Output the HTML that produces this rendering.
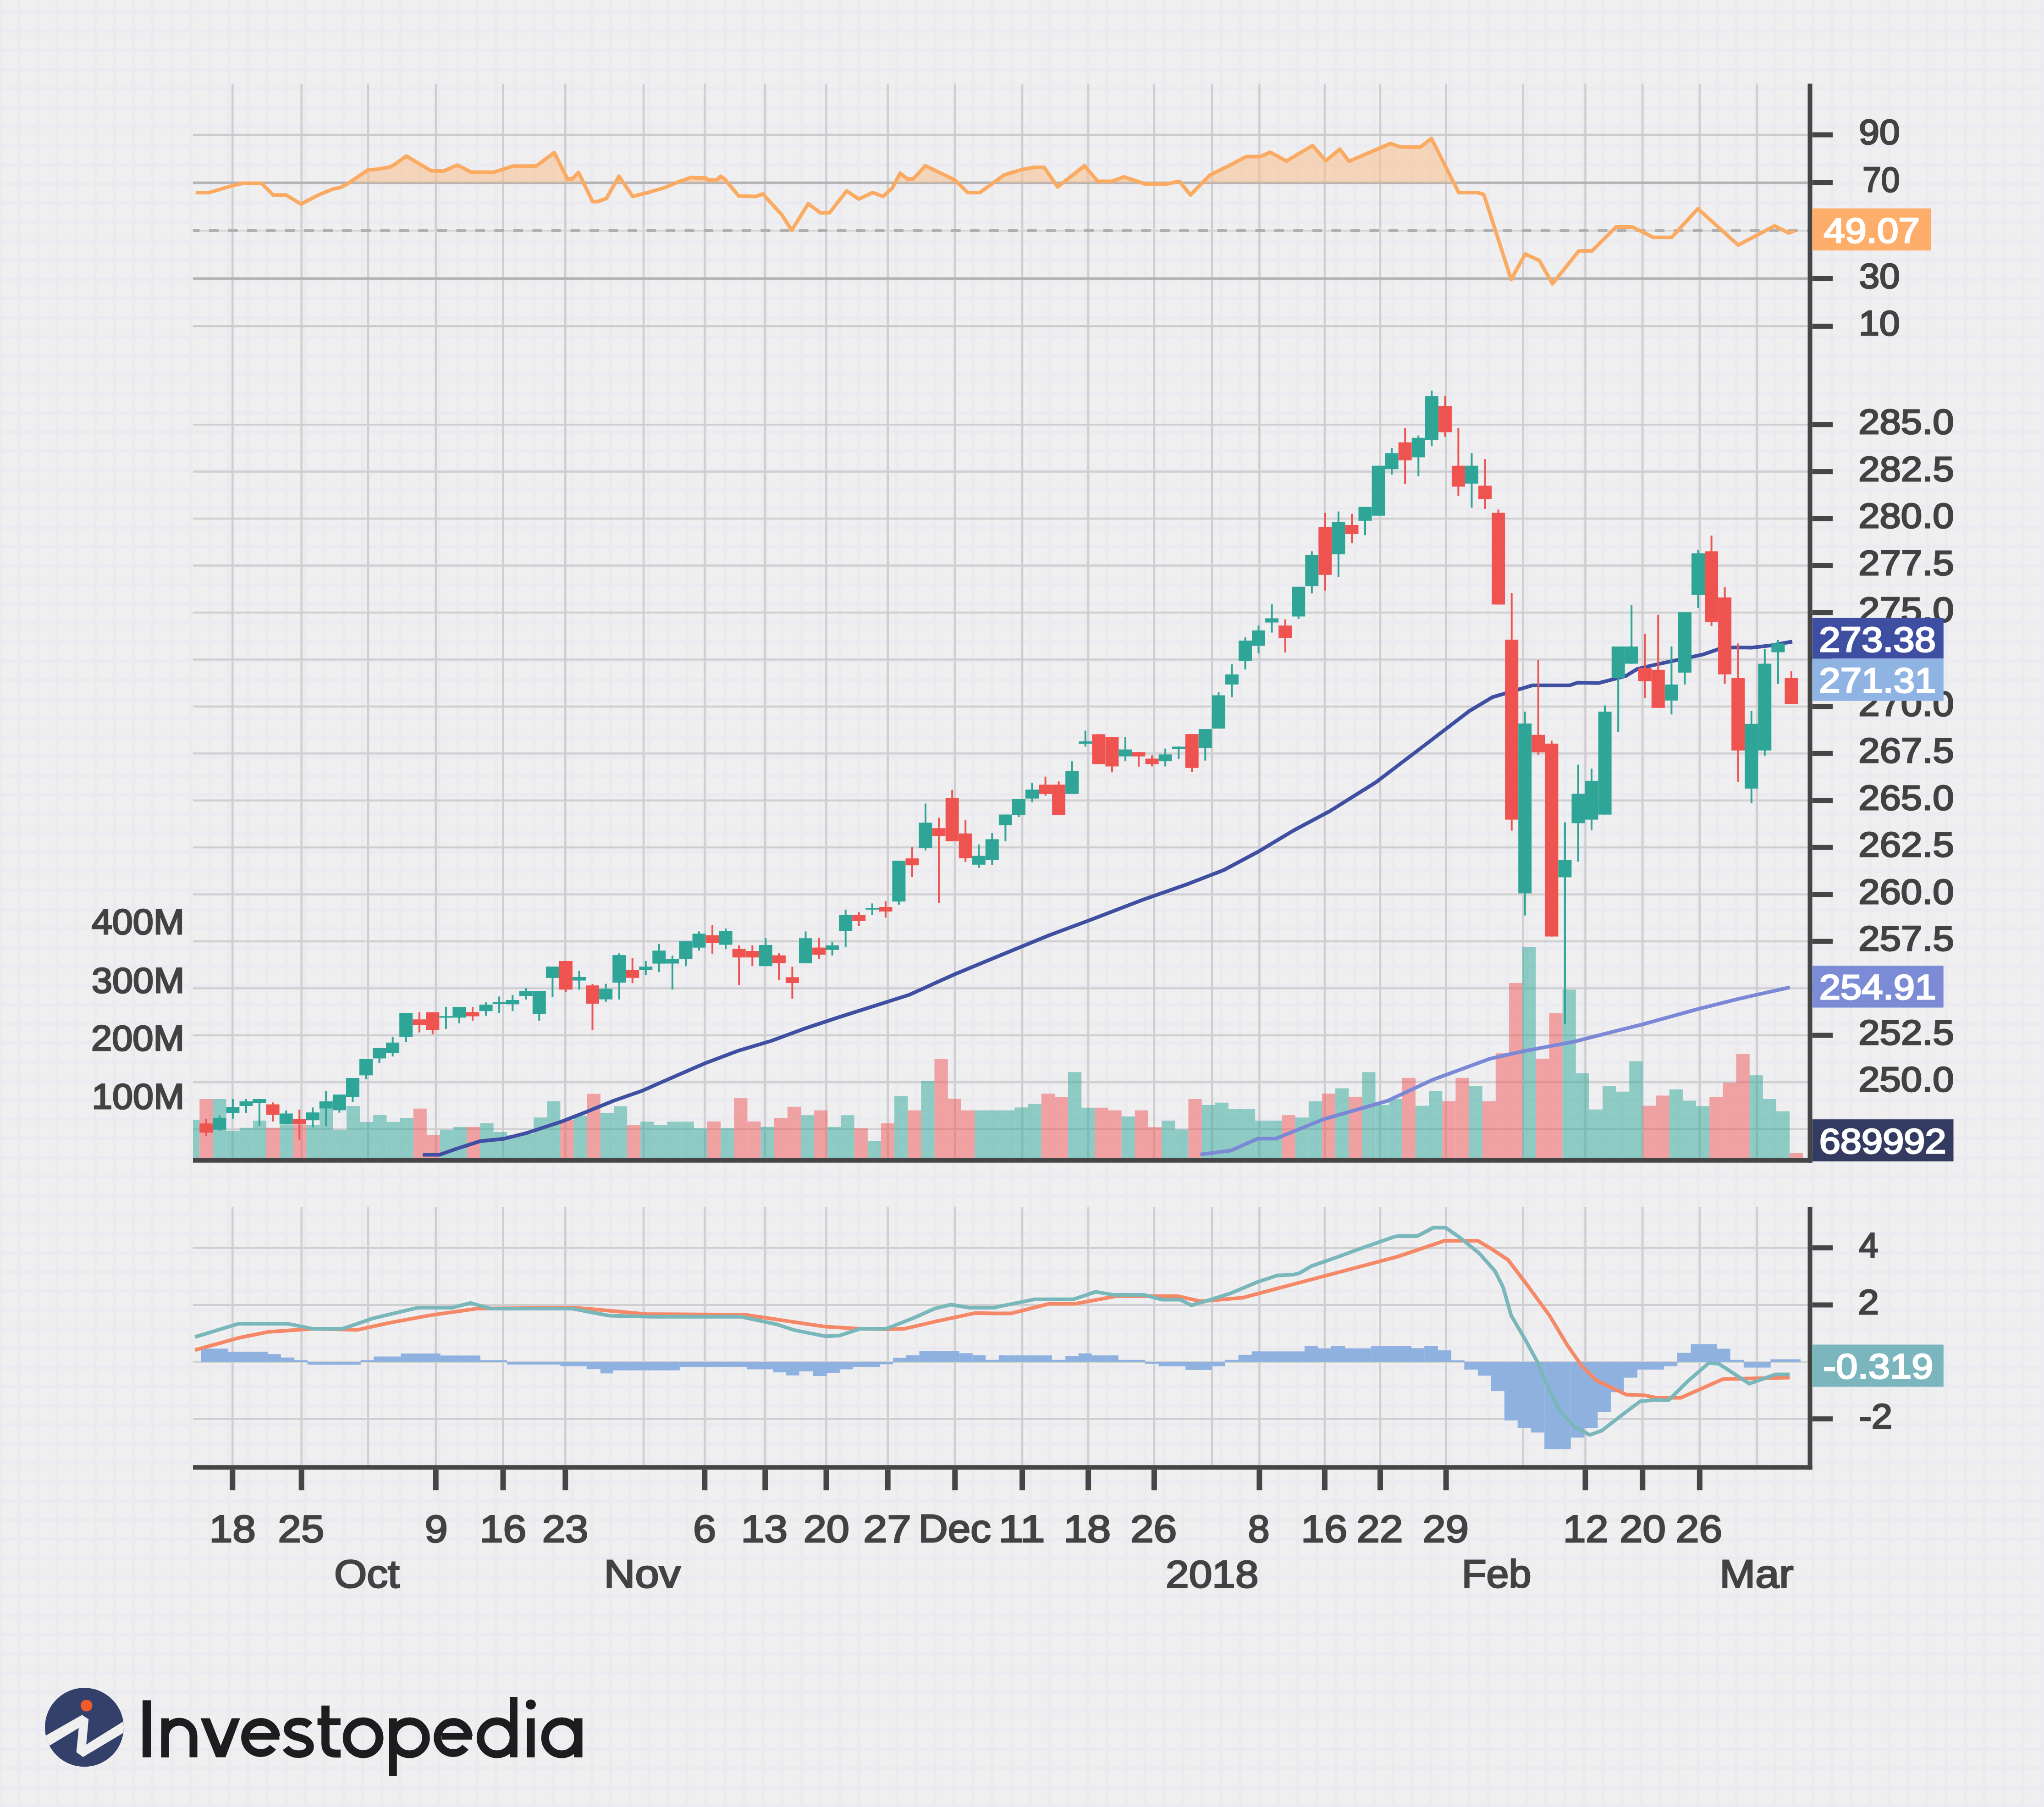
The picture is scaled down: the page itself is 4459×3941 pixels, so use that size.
<!DOCTYPE html><html><head><meta charset="utf-8"><style>html,body{margin:0;padding:0;background:#efeff1;overflow:hidden}svg{display:block}</style></head><body><svg width="4459" height="3941" viewBox="0 0 4459 3941">
<defs>
<pattern id="paper" x="41.5" y="26.6" width="41.63" height="41.63" patternUnits="userSpaceOnUse"><rect width="41.63" height="41.63" fill="#efeff0"/><rect x="-3.5" y="0" width="7" height="41.63" fill="#eaeaf0"/><rect x="38.13" y="0" width="7" height="41.63" fill="#eaeaf0"/><rect x="0" y="-3.5" width="41.63" height="7" fill="#eaeaf0"/><rect x="0" y="38.13" width="41.63" height="7" fill="#eaeaf0"/></pattern>
<clipPath id="plot"><rect x="421.0" y="0" width="3522.5" height="3941"/></clipPath>
<clipPath id="logoc"><circle cx="184" cy="3767.2" r="86"/></clipPath>
</defs>
<rect width="4459" height="3941" fill="url(#paper)"/>
<rect x="505" y="182.5" width="4.6" height="2343.5" fill="#cfcfd1"/>
<rect x="505" y="2632.5" width="4.6" height="562.8" fill="#cfcfd1"/>
<rect x="655.4" y="182.5" width="4.6" height="2343.5" fill="#cfcfd1"/>
<rect x="655.4" y="2632.5" width="4.6" height="562.8" fill="#cfcfd1"/>
<rect x="800.7" y="182.5" width="4.6" height="2343.5" fill="#cfcfd1"/>
<rect x="800.7" y="2632.5" width="4.6" height="562.8" fill="#cfcfd1"/>
<rect x="948.4" y="182.5" width="4.6" height="2343.5" fill="#cfcfd1"/>
<rect x="948.4" y="2632.5" width="4.6" height="562.8" fill="#cfcfd1"/>
<rect x="1095.2" y="182.5" width="4.6" height="2343.5" fill="#cfcfd1"/>
<rect x="1095.2" y="2632.5" width="4.6" height="562.8" fill="#cfcfd1"/>
<rect x="1231" y="182.5" width="4.6" height="2343.5" fill="#cfcfd1"/>
<rect x="1231" y="2632.5" width="4.6" height="562.8" fill="#cfcfd1"/>
<rect x="1401.7" y="182.5" width="4.6" height="2343.5" fill="#cfcfd1"/>
<rect x="1401.7" y="2632.5" width="4.6" height="562.8" fill="#cfcfd1"/>
<rect x="1535" y="182.5" width="4.6" height="2343.5" fill="#cfcfd1"/>
<rect x="1535" y="2632.5" width="4.6" height="562.8" fill="#cfcfd1"/>
<rect x="1667" y="182.5" width="4.6" height="2343.5" fill="#cfcfd1"/>
<rect x="1667" y="2632.5" width="4.6" height="562.8" fill="#cfcfd1"/>
<rect x="1800.2" y="182.5" width="4.6" height="2343.5" fill="#cfcfd1"/>
<rect x="1800.2" y="2632.5" width="4.6" height="562.8" fill="#cfcfd1"/>
<rect x="1934.4" y="182.5" width="4.6" height="2343.5" fill="#cfcfd1"/>
<rect x="1934.4" y="2632.5" width="4.6" height="562.8" fill="#cfcfd1"/>
<rect x="2081" y="182.5" width="4.6" height="2343.5" fill="#cfcfd1"/>
<rect x="2081" y="2632.5" width="4.6" height="562.8" fill="#cfcfd1"/>
<rect x="2227.8" y="182.5" width="4.6" height="2343.5" fill="#cfcfd1"/>
<rect x="2227.8" y="2632.5" width="4.6" height="562.8" fill="#cfcfd1"/>
<rect x="2371.8" y="182.5" width="4.6" height="2343.5" fill="#cfcfd1"/>
<rect x="2371.8" y="2632.5" width="4.6" height="562.8" fill="#cfcfd1"/>
<rect x="2515.6" y="182.5" width="4.6" height="2343.5" fill="#cfcfd1"/>
<rect x="2515.6" y="2632.5" width="4.6" height="562.8" fill="#cfcfd1"/>
<rect x="2641.9" y="182.5" width="4.6" height="2343.5" fill="#cfcfd1"/>
<rect x="2641.9" y="2632.5" width="4.6" height="562.8" fill="#cfcfd1"/>
<rect x="2745.1" y="182.5" width="4.6" height="2343.5" fill="#cfcfd1"/>
<rect x="2745.1" y="2632.5" width="4.6" height="562.8" fill="#cfcfd1"/>
<rect x="2887.6" y="182.5" width="4.6" height="2343.5" fill="#cfcfd1"/>
<rect x="2887.6" y="2632.5" width="4.6" height="562.8" fill="#cfcfd1"/>
<rect x="3008.7" y="182.5" width="4.6" height="2343.5" fill="#cfcfd1"/>
<rect x="3008.7" y="2632.5" width="4.6" height="562.8" fill="#cfcfd1"/>
<rect x="3152.3" y="182.5" width="4.6" height="2343.5" fill="#cfcfd1"/>
<rect x="3152.3" y="2632.5" width="4.6" height="562.8" fill="#cfcfd1"/>
<rect x="3320.4" y="182.5" width="4.6" height="2343.5" fill="#cfcfd1"/>
<rect x="3320.4" y="2632.5" width="4.6" height="562.8" fill="#cfcfd1"/>
<rect x="3456.2" y="182.5" width="4.6" height="2343.5" fill="#cfcfd1"/>
<rect x="3456.2" y="2632.5" width="4.6" height="562.8" fill="#cfcfd1"/>
<rect x="3581" y="182.5" width="4.6" height="2343.5" fill="#cfcfd1"/>
<rect x="3581" y="2632.5" width="4.6" height="562.8" fill="#cfcfd1"/>
<rect x="3705.6" y="182.5" width="4.6" height="2343.5" fill="#cfcfd1"/>
<rect x="3705.6" y="2632.5" width="4.6" height="562.8" fill="#cfcfd1"/>
<rect x="3830.7" y="182.5" width="4.6" height="2343.5" fill="#cfcfd1"/>
<rect x="3830.7" y="2632.5" width="4.6" height="562.8" fill="#cfcfd1"/>
<rect x="421.0" y="924" width="3522.5" height="4.4" fill="#cfcfd1"/>
<rect x="421.0" y="1026.4" width="3522.5" height="4.4" fill="#cfcfd1"/>
<rect x="421.0" y="1128.9" width="3522.5" height="4.4" fill="#cfcfd1"/>
<rect x="421.0" y="1231.3" width="3522.5" height="4.4" fill="#cfcfd1"/>
<rect x="421.0" y="1333.8" width="3522.5" height="4.4" fill="#cfcfd1"/>
<rect x="421.0" y="1436.2" width="3522.5" height="4.4" fill="#cfcfd1"/>
<rect x="421.0" y="1538.7" width="3522.5" height="4.4" fill="#cfcfd1"/>
<rect x="421.0" y="1641.1" width="3522.5" height="4.4" fill="#cfcfd1"/>
<rect x="421.0" y="1743.5" width="3522.5" height="4.4" fill="#cfcfd1"/>
<rect x="421.0" y="1846" width="3522.5" height="4.4" fill="#cfcfd1"/>
<rect x="421.0" y="1948.4" width="3522.5" height="4.4" fill="#cfcfd1"/>
<rect x="421.0" y="2050.9" width="3522.5" height="4.4" fill="#cfcfd1"/>
<rect x="421.0" y="2153.3" width="3522.5" height="4.4" fill="#cfcfd1"/>
<rect x="421.0" y="2255.8" width="3522.5" height="4.4" fill="#cfcfd1"/>
<rect x="421.0" y="2358.2" width="3522.5" height="4.4" fill="#cfcfd1"/>
<rect x="421.0" y="2460.6" width="3522.5" height="4.4" fill="#cfcfd1"/>
<rect x="421.0" y="291.8" width="3522.5" height="4.4" fill="#cbcbcd"/>
<rect x="421.0" y="395.9" width="3522.5" height="5" fill="#b2b2b4"/>
<rect x="421.0" y="605" width="3522.5" height="5" fill="#b2b2b4"/>
<rect x="421.0" y="709.2" width="3522.5" height="4.4" fill="#cbcbcd"/>
<rect x="421.0" y="501" width="3522.5" height="4" fill="#d4d4d6"/>
<g clip-path="url(#plot)"><line x1="414.5" y1="503" x2="3943.5" y2="503" stroke="#b0b0b2" stroke-width="6" stroke-dasharray="21 20.5"/></g>
<rect x="421.0" y="2719.4" width="3522.5" height="4.4" fill="#cfcfd1"/>
<rect x="421.0" y="2843.8" width="3522.5" height="4.4" fill="#cfcfd1"/>
<rect x="421.0" y="3092.4" width="3522.5" height="4.4" fill="#cfcfd1"/>
<rect x="421.0" y="2968.1" width="3522.5" height="4.4" fill="#d4d4d6"/>
<polygon points="761.7,398.4 768.9,393.6 801.9,371.1 823.9,368.9 850.3,364.5 861.3,358.4 886.4,340.3 912,355.7 940.6,372.5 967,373.3 997.8,360.1 1027.8,375.5 1077.1,375.5 1118.9,362.3 1169.5,362.3 1209.2,332.8 1237.8,390.1 1248.8,390.1 1262,376 1272.8,398.4" fill="#f8c08e" fill-opacity="0.55"/>
<polygon points="1342.4,398.4 1350.3,384.4 1359.9,398.4" fill="#f8c08e" fill-opacity="0.55"/>
<polygon points="1475.4,398.4 1479.3,396.7 1508,387 1519,387.9 1538.8,387.9 1545.4,392.3 1563,393.2 1571.8,384.4 1580.6,390.1 1587.5,398.4" fill="#f8c08e" fill-opacity="0.55"/>
<polygon points="1952.7,398.4 1963.7,377.7 1979.1,390.1 1992.3,390.1 2018.7,361.5 2082.6,392.3 2088.9,398.4" fill="#f8c08e" fill-opacity="0.55"/>
<polygon points="2167.4,398.4 2189.8,382.2 2194.2,380.4 2227.2,370.3 2255.9,365 2277.9,365 2301,398.4" fill="#f8c08e" fill-opacity="0.55"/>
<polygon points="2319.1,398.4 2365.9,361.5 2394.6,395.4 2425.4,395.4 2451.8,385.7 2490,398.4" fill="#f8c08e" fill-opacity="0.55"/>
<polygon points="2558.9,398.4 2572.9,395.4 2575.3,398.4" fill="#f8c08e" fill-opacity="0.55"/>
<polygon points="2623.2,398.4 2638.9,382.2 2676.4,363.7 2718.2,341.6 2749,341.6 2771,332 2806.3,351.3 2863.5,317.4 2892.1,350.5 2922.9,325.4 2942.8,351.8 3033,313 3055,320.5 3069.8,320.5 3098.4,320.9 3122.7,302 3171.2,398.4" fill="#f8c08e" fill-opacity="0.55"/>
<polyline points="426.7,420 456.2,420 482.7,412.1 504.7,405.5 528.9,399.8 570.7,399.8 595.8,425.3 624.4,425.3 656.6,445.1 691.8,426.6 707.2,420 727,412.1 742.4,409 755.6,402.4 768.9,393.6 801.9,371.1 823.9,368.9 850.3,364.5 861.3,358.4 886.4,340.3 912,355.7 940.6,372.5 967,373.3 997.8,360.1 1027.8,375.5 1077.1,375.5 1118.9,362.3 1169.5,362.3 1209.2,332.8 1237.8,390.1 1248.8,390.1 1262,376 1292.8,439.8 1303.2,439.8 1323,432.8 1350.3,384.4 1380.3,428.4 1413.3,420 1450.7,409 1479.3,396.7 1508,387 1519,387.9 1538.8,387.9 1545.4,392.3 1563,393.2 1571.8,384.4 1580.6,390.1 1611.4,427.5 1648.9,428.4 1664.3,423.1 1706.1,469.3 1727.2,502.4 1763.3,444.2 1789.8,464.1 1809.6,464.1 1847,416.5 1873.4,434.1 1904.2,420 1926.3,428.4 1946.1,410.8 1963.7,377.7 1979.1,390.1 1992.3,390.1 2018.7,361.5 2082.6,392.3 2111.2,420 2137.6,420 2189.8,382.2 2194.2,380.4 2227.2,370.3 2255.9,365 2277.9,365 2307.4,407.7 2365.9,361.5 2394.6,395.4 2425.4,395.4 2451.8,385.7 2498,401.1 2546.5,401.1 2572.9,395.4 2597.1,425.3 2638.9,382.2 2676.4,363.7 2718.2,341.6 2749,341.6 2771,332 2806.3,351.3 2863.5,317.4 2892.1,350.5 2922.9,325.4 2942.8,351.8 3033,313 3055,320.5 3069.8,320.5 3098.4,320.9 3122.7,302 3182.1,420 3223.9,420 3237.1,424.4 3296.6,609.4 3327.4,553.9 3358.2,568.4 3386.8,619 3444.1,547.3 3472.7,547.3 3525.5,494.9 3560.8,494.9 3607,517.8 3646.6,517.8 3703.9,455.2 3791.9,534.5 3871.2,492.7 3902,508.1 3915.2,503.2" fill="none" stroke="#fbaa62" stroke-width="8" stroke-linejoin="round"/>
<g clip-path="url(#plot)">
<rect x="406.1" y="2442.6" width="29.15" height="83.4" fill="#2da798" fill-opacity="0.5"/>
<rect x="435.3" y="2397" width="29.15" height="129" fill="#f15556" fill-opacity="0.5"/>
<rect x="464.4" y="2397" width="29.15" height="129" fill="#2da798" fill-opacity="0.5"/>
<rect x="493.6" y="2465.9" width="29.15" height="60.1" fill="#2da798" fill-opacity="0.5"/>
<rect x="522.7" y="2459.7" width="29.15" height="66.3" fill="#2da798" fill-opacity="0.5"/>
<rect x="551.9" y="2444.1" width="29.15" height="81.9" fill="#2da798" fill-opacity="0.5"/>
<rect x="581" y="2459.7" width="29.15" height="66.3" fill="#f15556" fill-opacity="0.5"/>
<rect x="610.2" y="2453.1" width="29.15" height="72.9" fill="#2da798" fill-opacity="0.5"/>
<rect x="639.3" y="2453.1" width="29.15" height="72.9" fill="#f15556" fill-opacity="0.5"/>
<rect x="668.5" y="2453.1" width="29.15" height="72.9" fill="#2da798" fill-opacity="0.5"/>
<rect x="697.6" y="2417.7" width="29.15" height="108.3" fill="#2da798" fill-opacity="0.5"/>
<rect x="726.8" y="2463.9" width="29.15" height="62.1" fill="#2da798" fill-opacity="0.5"/>
<rect x="755.9" y="2412" width="29.15" height="114" fill="#2da798" fill-opacity="0.5"/>
<rect x="785.1" y="2446.9" width="29.15" height="79.1" fill="#2da798" fill-opacity="0.5"/>
<rect x="814.2" y="2431.9" width="29.15" height="94.1" fill="#2da798" fill-opacity="0.5"/>
<rect x="843.4" y="2446.9" width="29.15" height="79.1" fill="#2da798" fill-opacity="0.5"/>
<rect x="872.5" y="2438.1" width="29.15" height="87.9" fill="#2da798" fill-opacity="0.5"/>
<rect x="901.7" y="2417.7" width="29.15" height="108.3" fill="#f15556" fill-opacity="0.5"/>
<rect x="930.8" y="2475" width="29.15" height="51" fill="#f15556" fill-opacity="0.5"/>
<rect x="960" y="2463.9" width="29.15" height="62.1" fill="#2da798" fill-opacity="0.5"/>
<rect x="989.1" y="2457.7" width="29.15" height="68.3" fill="#2da798" fill-opacity="0.5"/>
<rect x="1018.3" y="2457.7" width="29.15" height="68.3" fill="#f15556" fill-opacity="0.5"/>
<rect x="1047.5" y="2449.5" width="29.15" height="76.5" fill="#2da798" fill-opacity="0.5"/>
<rect x="1076.6" y="2469" width="29.15" height="57" fill="#2da798" fill-opacity="0.5"/>
<rect x="1105.8" y="2475" width="29.15" height="51" fill="#2da798" fill-opacity="0.5"/>
<rect x="1134.9" y="2472.7" width="29.15" height="53.3" fill="#2da798" fill-opacity="0.5"/>
<rect x="1164.1" y="2437.3" width="29.15" height="88.7" fill="#2da798" fill-opacity="0.5"/>
<rect x="1193.2" y="2401.8" width="29.15" height="124.2" fill="#2da798" fill-opacity="0.5"/>
<rect x="1222.3" y="2442.9" width="29.15" height="83.1" fill="#f15556" fill-opacity="0.5"/>
<rect x="1251.5" y="2433" width="29.15" height="93" fill="#2da798" fill-opacity="0.5"/>
<rect x="1280.7" y="2385.6" width="29.15" height="140.4" fill="#f15556" fill-opacity="0.5"/>
<rect x="1309.8" y="2427.9" width="29.15" height="98.1" fill="#2da798" fill-opacity="0.5"/>
<rect x="1339" y="2412.6" width="29.15" height="113.4" fill="#2da798" fill-opacity="0.5"/>
<rect x="1368.1" y="2453.4" width="29.15" height="72.6" fill="#f15556" fill-opacity="0.5"/>
<rect x="1397.2" y="2446.3" width="29.15" height="79.7" fill="#2da798" fill-opacity="0.5"/>
<rect x="1426.4" y="2453.4" width="29.15" height="72.6" fill="#2da798" fill-opacity="0.5"/>
<rect x="1455.6" y="2446.3" width="29.15" height="79.7" fill="#2da798" fill-opacity="0.5"/>
<rect x="1484.7" y="2446.3" width="29.15" height="79.7" fill="#2da798" fill-opacity="0.5"/>
<rect x="1513.8" y="2460.8" width="29.15" height="65.2" fill="#2da798" fill-opacity="0.5"/>
<rect x="1543" y="2445.9" width="29.15" height="80.1" fill="#f15556" fill-opacity="0.5"/>
<rect x="1572.2" y="2460.8" width="29.15" height="65.2" fill="#2da798" fill-opacity="0.5"/>
<rect x="1601.3" y="2395" width="29.15" height="131" fill="#f15556" fill-opacity="0.5"/>
<rect x="1630.4" y="2445.9" width="29.15" height="80.1" fill="#f15556" fill-opacity="0.5"/>
<rect x="1659.6" y="2457.7" width="29.15" height="68.3" fill="#2da798" fill-opacity="0.5"/>
<rect x="1688.8" y="2438.1" width="29.15" height="87.9" fill="#f15556" fill-opacity="0.5"/>
<rect x="1717.9" y="2413.8" width="29.15" height="112.2" fill="#f15556" fill-opacity="0.5"/>
<rect x="1747.1" y="2432.2" width="29.15" height="93.8" fill="#2da798" fill-opacity="0.5"/>
<rect x="1776.2" y="2421.6" width="29.15" height="104.4" fill="#f15556" fill-opacity="0.5"/>
<rect x="1805.3" y="2457.7" width="29.15" height="68.3" fill="#2da798" fill-opacity="0.5"/>
<rect x="1834.5" y="2432.2" width="29.15" height="93.8" fill="#2da798" fill-opacity="0.5"/>
<rect x="1863.7" y="2460.8" width="29.15" height="65.2" fill="#f15556" fill-opacity="0.5"/>
<rect x="1892.8" y="2488.2" width="29.15" height="37.8" fill="#2da798" fill-opacity="0.5"/>
<rect x="1921.9" y="2449.8" width="29.15" height="76.2" fill="#f15556" fill-opacity="0.5"/>
<rect x="1951.1" y="2390.3" width="29.15" height="135.7" fill="#2da798" fill-opacity="0.5"/>
<rect x="1980.2" y="2421.6" width="29.15" height="104.4" fill="#f15556" fill-opacity="0.5"/>
<rect x="2009.4" y="2357.8" width="29.15" height="168.2" fill="#2da798" fill-opacity="0.5"/>
<rect x="2038.6" y="2309.7" width="29.15" height="216.3" fill="#f15556" fill-opacity="0.5"/>
<rect x="2067.7" y="2396.2" width="29.15" height="129.8" fill="#f15556" fill-opacity="0.5"/>
<rect x="2096.8" y="2421.6" width="29.15" height="104.4" fill="#f15556" fill-opacity="0.5"/>
<rect x="2126" y="2421.6" width="29.15" height="104.4" fill="#2da798" fill-opacity="0.5"/>
<rect x="2155.2" y="2421.6" width="29.15" height="104.4" fill="#2da798" fill-opacity="0.5"/>
<rect x="2184.3" y="2421.6" width="29.15" height="104.4" fill="#2da798" fill-opacity="0.5"/>
<rect x="2213.4" y="2415.4" width="29.15" height="110.6" fill="#2da798" fill-opacity="0.5"/>
<rect x="2242.6" y="2407.6" width="29.15" height="118.4" fill="#2da798" fill-opacity="0.5"/>
<rect x="2271.8" y="2385.2" width="29.15" height="140.8" fill="#f15556" fill-opacity="0.5"/>
<rect x="2300.9" y="2392.3" width="29.15" height="133.7" fill="#f15556" fill-opacity="0.5"/>
<rect x="2330.1" y="2338.3" width="29.15" height="187.7" fill="#2da798" fill-opacity="0.5"/>
<rect x="2359.2" y="2415.8" width="29.15" height="110.2" fill="#2da798" fill-opacity="0.5"/>
<rect x="2388.3" y="2415.8" width="29.15" height="110.2" fill="#f15556" fill-opacity="0.5"/>
<rect x="2417.5" y="2421.6" width="29.15" height="104.4" fill="#f15556" fill-opacity="0.5"/>
<rect x="2446.7" y="2435" width="29.15" height="91" fill="#2da798" fill-opacity="0.5"/>
<rect x="2475.8" y="2421.6" width="29.15" height="104.4" fill="#f15556" fill-opacity="0.5"/>
<rect x="2505" y="2458.4" width="29.15" height="67.6" fill="#f15556" fill-opacity="0.5"/>
<rect x="2534.1" y="2444" width="29.15" height="82" fill="#2da798" fill-opacity="0.5"/>
<rect x="2563.2" y="2463.5" width="29.15" height="62.5" fill="#2da798" fill-opacity="0.5"/>
<rect x="2592.4" y="2397" width="29.15" height="129" fill="#f15556" fill-opacity="0.5"/>
<rect x="2621.6" y="2409.9" width="29.15" height="116.1" fill="#2da798" fill-opacity="0.5"/>
<rect x="2650.7" y="2404.8" width="29.15" height="121.2" fill="#2da798" fill-opacity="0.5"/>
<rect x="2679.8" y="2418.5" width="29.15" height="107.5" fill="#2da798" fill-opacity="0.5"/>
<rect x="2709" y="2418.5" width="29.15" height="107.5" fill="#2da798" fill-opacity="0.5"/>
<rect x="2738.2" y="2444" width="29.15" height="82" fill="#2da798" fill-opacity="0.5"/>
<rect x="2767.3" y="2444" width="29.15" height="82" fill="#2da798" fill-opacity="0.5"/>
<rect x="2796.5" y="2432.2" width="29.15" height="93.8" fill="#f15556" fill-opacity="0.5"/>
<rect x="2825.6" y="2437.3" width="29.15" height="88.7" fill="#2da798" fill-opacity="0.5"/>
<rect x="2854.8" y="2402.1" width="29.15" height="123.9" fill="#2da798" fill-opacity="0.5"/>
<rect x="2883.9" y="2385.2" width="29.15" height="140.8" fill="#f15556" fill-opacity="0.5"/>
<rect x="2913.1" y="2373.5" width="29.15" height="152.5" fill="#2da798" fill-opacity="0.5"/>
<rect x="2942.2" y="2391.9" width="29.15" height="134.1" fill="#f15556" fill-opacity="0.5"/>
<rect x="2971.3" y="2338.3" width="29.15" height="187.7" fill="#2da798" fill-opacity="0.5"/>
<rect x="3000.5" y="2409.9" width="29.15" height="116.1" fill="#2da798" fill-opacity="0.5"/>
<rect x="3029.7" y="2397" width="29.15" height="129" fill="#2da798" fill-opacity="0.5"/>
<rect x="3058.8" y="2350.8" width="29.15" height="175.2" fill="#f15556" fill-opacity="0.5"/>
<rect x="3088" y="2411.6" width="29.15" height="114.4" fill="#2da798" fill-opacity="0.5"/>
<rect x="3117.1" y="2379.9" width="29.15" height="146.1" fill="#2da798" fill-opacity="0.5"/>
<rect x="3146.2" y="2401.9" width="29.15" height="124.1" fill="#f15556" fill-opacity="0.5"/>
<rect x="3175.4" y="2350.8" width="29.15" height="175.2" fill="#f15556" fill-opacity="0.5"/>
<rect x="3204.6" y="2369" width="29.15" height="157" fill="#2da798" fill-opacity="0.5"/>
<rect x="3233.7" y="2401.9" width="29.15" height="124.1" fill="#f15556" fill-opacity="0.5"/>
<rect x="3262.8" y="2297.1" width="29.15" height="228.9" fill="#f15556" fill-opacity="0.5"/>
<rect x="3292" y="2143.9" width="29.15" height="382.1" fill="#f15556" fill-opacity="0.5"/>
<rect x="3321.2" y="2065.2" width="29.15" height="460.8" fill="#2da798" fill-opacity="0.5"/>
<rect x="3350.3" y="2308.9" width="29.15" height="217.1" fill="#f15556" fill-opacity="0.5"/>
<rect x="3379.4" y="2209.9" width="29.15" height="316.1" fill="#f15556" fill-opacity="0.5"/>
<rect x="3408.6" y="2158.3" width="29.15" height="367.7" fill="#2da798" fill-opacity="0.5"/>
<rect x="3437.8" y="2340.6" width="29.15" height="185.4" fill="#2da798" fill-opacity="0.5"/>
<rect x="3466.9" y="2419.8" width="29.15" height="106.2" fill="#2da798" fill-opacity="0.5"/>
<rect x="3496.1" y="2369" width="29.15" height="157" fill="#2da798" fill-opacity="0.5"/>
<rect x="3525.2" y="2380.8" width="29.15" height="145.2" fill="#2da798" fill-opacity="0.5"/>
<rect x="3554.3" y="2314.7" width="29.15" height="211.3" fill="#2da798" fill-opacity="0.5"/>
<rect x="3583.5" y="2411.6" width="29.15" height="114.4" fill="#f15556" fill-opacity="0.5"/>
<rect x="3612.7" y="2389.4" width="29.15" height="136.6" fill="#f15556" fill-opacity="0.5"/>
<rect x="3641.8" y="2376" width="29.15" height="150" fill="#2da798" fill-opacity="0.5"/>
<rect x="3670.9" y="2400.6" width="29.15" height="125.4" fill="#2da798" fill-opacity="0.5"/>
<rect x="3700.1" y="2412.3" width="29.15" height="113.7" fill="#2da798" fill-opacity="0.5"/>
<rect x="3729.2" y="2392.2" width="29.15" height="133.8" fill="#f15556" fill-opacity="0.5"/>
<rect x="3758.4" y="2361.2" width="29.15" height="164.8" fill="#f15556" fill-opacity="0.5"/>
<rect x="3787.6" y="2298.9" width="29.15" height="227.1" fill="#f15556" fill-opacity="0.5"/>
<rect x="3816.7" y="2345.2" width="29.15" height="180.8" fill="#2da798" fill-opacity="0.5"/>
<rect x="3845.8" y="2396.9" width="29.15" height="129.1" fill="#2da798" fill-opacity="0.5"/>
<rect x="3875" y="2423.8" width="29.15" height="102.2" fill="#2da798" fill-opacity="0.5"/>
<rect x="3904.2" y="2514.4" width="29.15" height="11.6" fill="#f15556" fill-opacity="0.5"/>
</g>
<polyline points="2618.4,2517.9 2685.2,2509.4 2744.2,2483.2 2783.6,2483.2 2888.5,2440.6 3026.1,2401.2 3124.5,2355.3 3249,2309.4 3321.1,2293.1 3432.6,2272.1 3530.9,2247.2 3583.3,2234.1 3701.4,2201.3 3793.1,2178.3 3904.6,2153.4" fill="none" stroke="#7b88d6" stroke-width="8" stroke-linejoin="round" stroke-linecap="butt"/>
<polyline points="922,2518.5 958.7,2518.5 997.8,2504.8 1046.8,2489.1 1100,2483.5 1151.4,2470.3 1224.8,2446.3 1280.5,2424.5 1339.2,2400.5 1400,2379.3 1438.2,2362.4 1536,2319.8 1609.4,2292 1682.8,2270 1756.2,2243 1829.5,2218.6 1981.8,2170.3 2083.5,2124.5 2185.3,2082.3 2287,2040.5 2388.8,2002.4 2490.6,1963.2 2592.3,1927.6 2668.6,1898.1 2745,1857.4 2821.3,1811.6 2900,1769.6 3001.8,1706 3103.5,1628.6 3205.3,1550.8 3256.2,1520.3 3342.7,1494.8 3424,1494.8 3441.9,1488.7 3487.7,1489.7 3546.2,1474.5 3571.6,1459.2 3602.1,1451.6 3714.1,1427.7 3759.9,1411.9 3821,1412.4 3866.7,1407.3 3910,1399.2" fill="none" stroke="#3f4fa1" stroke-width="8" stroke-linejoin="round" stroke-linecap="butt"/>
<rect x="447.8" y="2440.4" width="4" height="36.9" fill="#ef5350"/>
<rect x="435.3" y="2450.3" width="29" height="19.9" fill="#ef5350"/>
<rect x="476.9" y="2432.7" width="4" height="33.2" fill="#2ea597"/>
<rect x="464.4" y="2438.1" width="29" height="25.5" fill="#2ea597"/>
<rect x="505.9" y="2397" width="4" height="42.8" fill="#2ea597"/>
<rect x="493.4" y="2414.3" width="29" height="13.3" fill="#2ea597"/>
<rect x="535" y="2397" width="4" height="30.6" fill="#2ea597"/>
<rect x="522.5" y="2402.1" width="29" height="9.9" fill="#2ea597"/>
<rect x="564" y="2397" width="4" height="59" fill="#2ea597"/>
<rect x="551.5" y="2397" width="29" height="8.8" fill="#2ea597"/>
<rect x="593.1" y="2404.3" width="4" height="41.7" fill="#ef5350"/>
<rect x="580.6" y="2408.6" width="29" height="22.7" fill="#ef5350"/>
<rect x="622.2" y="2421.9" width="4" height="30.4" fill="#2ea597"/>
<rect x="609.7" y="2428.5" width="29" height="23.8" fill="#2ea597"/>
<rect x="651.2" y="2419.9" width="4" height="65.8" fill="#ef5350"/>
<rect x="638.7" y="2440.4" width="29" height="11.9" fill="#ef5350"/>
<rect x="680.3" y="2415.4" width="4" height="43.4" fill="#2ea597"/>
<rect x="667.8" y="2426.2" width="29" height="17" fill="#2ea597"/>
<rect x="709.3" y="2379.4" width="4" height="76.6" fill="#2ea597"/>
<rect x="696.8" y="2402.1" width="29" height="15.6" fill="#2ea597"/>
<rect x="738.4" y="2387.3" width="4" height="39.4" fill="#2ea597"/>
<rect x="725.9" y="2387.3" width="29" height="34.1" fill="#2ea597"/>
<rect x="767.5" y="2351" width="4" height="52.5" fill="#2ea597"/>
<rect x="755" y="2351" width="29" height="42" fill="#2ea597"/>
<rect x="796.5" y="2309.8" width="4" height="44" fill="#2ea597"/>
<rect x="784" y="2309.8" width="29" height="35.5" fill="#2ea597"/>
<rect x="825.6" y="2285.7" width="4" height="33.2" fill="#2ea597"/>
<rect x="813.1" y="2285.7" width="29" height="22.7" fill="#2ea597"/>
<rect x="854.6" y="2261.6" width="4" height="42.6" fill="#2ea597"/>
<rect x="842.1" y="2273.8" width="29" height="22.7" fill="#2ea597"/>
<rect x="883.7" y="2209.1" width="4" height="63.8" fill="#2ea597"/>
<rect x="871.2" y="2209.1" width="29" height="52.5" fill="#2ea597"/>
<rect x="912.8" y="2207.7" width="4" height="44" fill="#ef5350"/>
<rect x="900.3" y="2223.3" width="29" height="12.2" fill="#ef5350"/>
<rect x="941.8" y="2207.7" width="4" height="47.7" fill="#ef5350"/>
<rect x="929.3" y="2207.7" width="29" height="38.3" fill="#ef5350"/>
<rect x="970.9" y="2195.8" width="4" height="48.2" fill="#2ea597"/>
<rect x="958.4" y="2216.2" width="29" height="3.4" fill="#2ea597"/>
<rect x="999.9" y="2196.1" width="4" height="36" fill="#2ea597"/>
<rect x="987.4" y="2196.1" width="29" height="23.3" fill="#2ea597"/>
<rect x="1029" y="2196.1" width="4" height="30.4" fill="#ef5350"/>
<rect x="1016.5" y="2207.4" width="29" height="9.1" fill="#ef5350"/>
<rect x="1058.1" y="2186.1" width="4" height="29.2" fill="#2ea597"/>
<rect x="1045.6" y="2191" width="29" height="14.2" fill="#2ea597"/>
<rect x="1087.1" y="2173.4" width="4" height="36" fill="#2ea597"/>
<rect x="1074.6" y="2185.6" width="29" height="4.3" fill="#2ea597"/>
<rect x="1116.2" y="2170" width="4" height="35.2" fill="#2ea597"/>
<rect x="1103.7" y="2181" width="29" height="9.4" fill="#2ea597"/>
<rect x="1145.2" y="2154.4" width="4" height="25.5" fill="#2ea597"/>
<rect x="1132.7" y="2161.2" width="29" height="10.8" fill="#2ea597"/>
<rect x="1174.3" y="2161.2" width="4" height="65.3" fill="#2ea597"/>
<rect x="1161.8" y="2161.2" width="29" height="49.9" fill="#2ea597"/>
<rect x="1203.4" y="2108.1" width="4" height="66.1" fill="#2ea597"/>
<rect x="1190.9" y="2108.1" width="29" height="24.7" fill="#2ea597"/>
<rect x="1232.4" y="2095.9" width="4" height="68.1" fill="#ef5350"/>
<rect x="1219.9" y="2095.9" width="29" height="62.4" fill="#ef5350"/>
<rect x="1261.5" y="2117.2" width="4" height="41.1" fill="#2ea597"/>
<rect x="1249" y="2130.8" width="29" height="7.7" fill="#2ea597"/>
<rect x="1290.5" y="2145.8" width="4" height="100.5" fill="#ef5350"/>
<rect x="1278" y="2149.2" width="29" height="39.7" fill="#ef5350"/>
<rect x="1319.6" y="2145.6" width="4" height="39.2" fill="#2ea597"/>
<rect x="1307.1" y="2156.3" width="29" height="23.3" fill="#2ea597"/>
<rect x="1348.7" y="2079.2" width="4" height="100.7" fill="#2ea597"/>
<rect x="1336.2" y="2083.1" width="29" height="59.9" fill="#2ea597"/>
<rect x="1377.7" y="2089.1" width="4" height="55" fill="#ef5350"/>
<rect x="1365.2" y="2116" width="29" height="16.7" fill="#ef5350"/>
<rect x="1406.8" y="2095.9" width="4" height="31.2" fill="#2ea597"/>
<rect x="1394.3" y="2108.1" width="29" height="7.1" fill="#2ea597"/>
<rect x="1435.8" y="2058.4" width="4" height="61.9" fill="#2ea597"/>
<rect x="1423.3" y="2073.2" width="29" height="28.4" fill="#2ea597"/>
<rect x="1464.9" y="2084" width="4" height="74.3" fill="#2ea597"/>
<rect x="1452.4" y="2091.6" width="29" height="9.9" fill="#2ea597"/>
<rect x="1494" y="2052.7" width="4" height="54.5" fill="#2ea597"/>
<rect x="1481.5" y="2052.7" width="29" height="38.9" fill="#2ea597"/>
<rect x="1523" y="2031.4" width="4" height="41.7" fill="#2ea597"/>
<rect x="1510.5" y="2036.3" width="29" height="30.4" fill="#2ea597"/>
<rect x="1552.1" y="2017.8" width="4" height="62.4" fill="#ef5350"/>
<rect x="1539.6" y="2039.9" width="29" height="17" fill="#ef5350"/>
<rect x="1581.1" y="2024.9" width="4" height="45.4" fill="#2ea597"/>
<rect x="1568.6" y="2030.6" width="29" height="29.8" fill="#2ea597"/>
<rect x="1610.2" y="2061.8" width="4" height="86.5" fill="#ef5350"/>
<rect x="1597.7" y="2069.5" width="29" height="18.7" fill="#ef5350"/>
<rect x="1639.3" y="2061.8" width="4" height="45.4" fill="#ef5350"/>
<rect x="1626.8" y="2074" width="29" height="14.2" fill="#ef5350"/>
<rect x="1668.3" y="2046.2" width="4" height="61" fill="#2ea597"/>
<rect x="1655.8" y="2060.9" width="29" height="46.3" fill="#2ea597"/>
<rect x="1697.4" y="2078.8" width="4" height="58.2" fill="#ef5350"/>
<rect x="1684.9" y="2083.6" width="29" height="17.3" fill="#ef5350"/>
<rect x="1726.4" y="2108.6" width="4" height="69.5" fill="#ef5350"/>
<rect x="1713.9" y="2131.3" width="29" height="12.8" fill="#ef5350"/>
<rect x="1755.5" y="2031.4" width="4" height="69.5" fill="#2ea597"/>
<rect x="1743" y="2046.2" width="29" height="54.8" fill="#2ea597"/>
<rect x="1784.6" y="2045.6" width="4" height="46" fill="#ef5350"/>
<rect x="1772.1" y="2066.6" width="29" height="15.6" fill="#ef5350"/>
<rect x="1813.6" y="2054.7" width="4" height="29.2" fill="#2ea597"/>
<rect x="1801.1" y="2061.8" width="29" height="9.9" fill="#2ea597"/>
<rect x="1842.7" y="1983.8" width="4" height="81.7" fill="#2ea597"/>
<rect x="1830.2" y="1995.7" width="29" height="34.3" fill="#2ea597"/>
<rect x="1871.7" y="1989.4" width="4" height="29.8" fill="#ef5350"/>
<rect x="1859.2" y="1996" width="29" height="12.8" fill="#ef5350"/>
<rect x="1900.8" y="1970.4" width="4" height="24.7" fill="#2ea597"/>
<rect x="1888.3" y="1980.4" width="29" height="3.4" fill="#2ea597"/>
<rect x="1929.9" y="1965.3" width="4" height="36" fill="#ef5350"/>
<rect x="1917.4" y="1978.1" width="29" height="9.9" fill="#ef5350"/>
<rect x="1958.9" y="1877.4" width="4" height="95.6" fill="#2ea597"/>
<rect x="1946.4" y="1877.4" width="29" height="88.8" fill="#2ea597"/>
<rect x="1988" y="1847.6" width="4" height="65.3" fill="#ef5350"/>
<rect x="1975.5" y="1872.2" width="29" height="15" fill="#ef5350"/>
<rect x="2017" y="1752.5" width="4" height="102.2" fill="#2ea597"/>
<rect x="2004.5" y="1794.2" width="29" height="54.8" fill="#2ea597"/>
<rect x="2046.1" y="1783.6" width="4" height="185.9" fill="#ef5350"/>
<rect x="2033.6" y="1806.3" width="29" height="17" fill="#ef5350"/>
<rect x="2075.2" y="1722.6" width="4" height="112.1" fill="#ef5350"/>
<rect x="2062.7" y="1740.5" width="29" height="94.2" fill="#ef5350"/>
<rect x="2104.2" y="1787.9" width="4" height="92.2" fill="#ef5350"/>
<rect x="2091.7" y="1817.7" width="29" height="53.9" fill="#ef5350"/>
<rect x="2133.3" y="1841.8" width="4" height="51.1" fill="#2ea597"/>
<rect x="2120.8" y="1866.5" width="29" height="19.3" fill="#2ea597"/>
<rect x="2162.3" y="1817.1" width="4" height="69.2" fill="#2ea597"/>
<rect x="2149.8" y="1830.4" width="29" height="45.4" fill="#2ea597"/>
<rect x="2191.4" y="1776.5" width="4" height="58.2" fill="#2ea597"/>
<rect x="2178.9" y="1776.5" width="29" height="23.3" fill="#2ea597"/>
<rect x="2220.5" y="1742.5" width="4" height="39.7" fill="#2ea597"/>
<rect x="2208" y="1742.5" width="29" height="34.9" fill="#2ea597"/>
<rect x="2249.5" y="1707" width="4" height="42.6" fill="#2ea597"/>
<rect x="2237" y="1722" width="29" height="19.6" fill="#2ea597"/>
<rect x="2278.6" y="1693.7" width="4" height="41.7" fill="#ef5350"/>
<rect x="2266.1" y="1711.3" width="29" height="20.7" fill="#ef5350"/>
<rect x="2307.6" y="1704.2" width="4" height="73.2" fill="#ef5350"/>
<rect x="2295.1" y="1711.3" width="29" height="66.1" fill="#ef5350"/>
<rect x="2336.7" y="1660.2" width="4" height="70.9" fill="#2ea597"/>
<rect x="2324.2" y="1681.5" width="29" height="49.7" fill="#2ea597"/>
<rect x="2365.8" y="1593.5" width="4" height="34.9" fill="#2ea597"/>
<rect x="2353.3" y="1616.8" width="29" height="5.1" fill="#2ea597"/>
<rect x="2394.8" y="1601.4" width="4" height="65.3" fill="#ef5350"/>
<rect x="2382.3" y="1601.4" width="29" height="65.3" fill="#ef5350"/>
<rect x="2423.9" y="1607.7" width="4" height="76.6" fill="#ef5350"/>
<rect x="2411.4" y="1607.7" width="29" height="63.8" fill="#ef5350"/>
<rect x="2452.9" y="1607.7" width="4" height="52.5" fill="#2ea597"/>
<rect x="2440.4" y="1634.6" width="29" height="15" fill="#2ea597"/>
<rect x="2482" y="1640.3" width="4" height="32.1" fill="#ef5350"/>
<rect x="2469.5" y="1640.3" width="29" height="9.4" fill="#ef5350"/>
<rect x="2511.1" y="1647.4" width="4" height="24.1" fill="#ef5350"/>
<rect x="2498.6" y="1654.5" width="29" height="12.2" fill="#ef5350"/>
<rect x="2540.1" y="1632.7" width="4" height="38.9" fill="#2ea597"/>
<rect x="2527.6" y="1645.4" width="29" height="14.8" fill="#2ea597"/>
<rect x="2569.2" y="1628.4" width="4" height="27.5" fill="#2ea597"/>
<rect x="2556.7" y="1628.4" width="29" height="4.8" fill="#2ea597"/>
<rect x="2598.2" y="1601.1" width="4" height="82.8" fill="#ef5350"/>
<rect x="2585.7" y="1601.1" width="29" height="73.7" fill="#ef5350"/>
<rect x="2627.3" y="1590.2" width="4" height="68.5" fill="#2ea597"/>
<rect x="2614.8" y="1590.2" width="29" height="41.1" fill="#2ea597"/>
<rect x="2656.4" y="1509.8" width="4" height="79.1" fill="#2ea597"/>
<rect x="2643.9" y="1516.5" width="29" height="72.4" fill="#2ea597"/>
<rect x="2685.4" y="1449" width="4" height="71.2" fill="#2ea597"/>
<rect x="2672.9" y="1470.9" width="29" height="21.9" fill="#2ea597"/>
<rect x="2714.5" y="1390.2" width="4" height="70" fill="#2ea597"/>
<rect x="2702" y="1397.2" width="29" height="44.1" fill="#2ea597"/>
<rect x="2743.5" y="1364.3" width="4" height="60.3" fill="#2ea597"/>
<rect x="2731" y="1375" width="29" height="33.5" fill="#2ea597"/>
<rect x="2772.6" y="1318.1" width="4" height="61.5" fill="#2ea597"/>
<rect x="2760.1" y="1348.5" width="29" height="9.1" fill="#2ea597"/>
<rect x="2801.7" y="1350.7" width="4" height="72.4" fill="#ef5350"/>
<rect x="2789.2" y="1364.3" width="29" height="27.4" fill="#ef5350"/>
<rect x="2830.7" y="1279.7" width="4" height="70" fill="#2ea597"/>
<rect x="2818.2" y="1279.7" width="29" height="64.8" fill="#2ea597"/>
<rect x="2859.8" y="1202.4" width="4" height="91.9" fill="#2ea597"/>
<rect x="2847.3" y="1210" width="29" height="68.2" fill="#2ea597"/>
<rect x="2888.8" y="1118.5" width="4" height="169.5" fill="#ef5350"/>
<rect x="2876.3" y="1149.6" width="29" height="104.1" fill="#ef5350"/>
<rect x="2917.9" y="1115.5" width="4" height="143" fill="#2ea597"/>
<rect x="2905.4" y="1138.3" width="29" height="70.6" fill="#2ea597"/>
<rect x="2947" y="1120.7" width="4" height="63.9" fill="#ef5350"/>
<rect x="2934.5" y="1145" width="29" height="19.8" fill="#ef5350"/>
<rect x="2976" y="1105.4" width="4" height="61.8" fill="#2ea597"/>
<rect x="2963.5" y="1105.4" width="29" height="30.4" fill="#2ea597"/>
<rect x="3005.1" y="1015.7" width="4" height="109" fill="#2ea597"/>
<rect x="2992.6" y="1015.7" width="29" height="109" fill="#2ea597"/>
<rect x="3034.1" y="977" width="4" height="57.8" fill="#2ea597"/>
<rect x="3021.6" y="988.3" width="29" height="35" fill="#2ea597"/>
<rect x="3063.2" y="933.5" width="4" height="122.3" fill="#ef5350"/>
<rect x="3050.7" y="964.8" width="29" height="39.3" fill="#ef5350"/>
<rect x="3092.3" y="949.6" width="4" height="88.9" fill="#2ea597"/>
<rect x="3079.8" y="954.8" width="29" height="42.6" fill="#2ea597"/>
<rect x="3121.3" y="851.9" width="4" height="121.1" fill="#2ea597"/>
<rect x="3108.8" y="864.1" width="29" height="95.3" fill="#2ea597"/>
<rect x="3150.4" y="864.1" width="4" height="88.6" fill="#ef5350"/>
<rect x="3137.9" y="885.7" width="29" height="56.9" fill="#ef5350"/>
<rect x="3179.4" y="932.9" width="4" height="148.2" fill="#ef5350"/>
<rect x="3166.9" y="1015.7" width="29" height="45.7" fill="#ef5350"/>
<rect x="3208.5" y="988.3" width="4" height="118.7" fill="#2ea597"/>
<rect x="3196" y="1015.7" width="29" height="39" fill="#2ea597"/>
<rect x="3237.6" y="1001.3" width="4" height="108.7" fill="#ef5350"/>
<rect x="3225.1" y="1059.2" width="29" height="28.9" fill="#ef5350"/>
<rect x="3266.6" y="1111.4" width="4" height="207" fill="#ef5350"/>
<rect x="3254.1" y="1118.2" width="29" height="200.2" fill="#ef5350"/>
<rect x="3295.7" y="1293.6" width="4" height="517.9" fill="#ef5350"/>
<rect x="3283.2" y="1395.2" width="29" height="392.4" fill="#ef5350"/>
<rect x="3324.7" y="1552" width="4" height="444.7" fill="#2ea597"/>
<rect x="3312.2" y="1577.9" width="29" height="370.5" fill="#2ea597"/>
<rect x="3353.8" y="1440" width="4" height="206" fill="#ef5350"/>
<rect x="3341.3" y="1602.7" width="29" height="38" fill="#ef5350"/>
<rect x="3382.9" y="1615.3" width="4" height="427.2" fill="#ef5350"/>
<rect x="3370.4" y="1621.8" width="29" height="420.7" fill="#ef5350"/>
<rect x="3411.9" y="1793.6" width="4" height="440.4" fill="#2ea597"/>
<rect x="3399.4" y="1876" width="29" height="37.4" fill="#2ea597"/>
<rect x="3441" y="1667.5" width="4" height="211.6" fill="#2ea597"/>
<rect x="3428.5" y="1730.9" width="29" height="64.5" fill="#2ea597"/>
<rect x="3470" y="1676.5" width="4" height="134.5" fill="#2ea597"/>
<rect x="3457.5" y="1702.8" width="29" height="84.8" fill="#2ea597"/>
<rect x="3499.1" y="1538.6" width="4" height="238" fill="#2ea597"/>
<rect x="3486.6" y="1552" width="29" height="224.6" fill="#2ea597"/>
<rect x="3528.2" y="1410" width="4" height="186" fill="#2ea597"/>
<rect x="3515.7" y="1410" width="29" height="69" fill="#2ea597"/>
<rect x="3557.2" y="1319.7" width="4" height="127.8" fill="#2ea597"/>
<rect x="3544.7" y="1410" width="29" height="37.5" fill="#2ea597"/>
<rect x="3586.3" y="1382.2" width="4" height="140" fill="#ef5350"/>
<rect x="3573.8" y="1457" width="29" height="28.7" fill="#ef5350"/>
<rect x="3615.3" y="1340.7" width="4" height="203.1" fill="#ef5350"/>
<rect x="3602.8" y="1460.8" width="29" height="83" fill="#ef5350"/>
<rect x="3644.4" y="1409.9" width="4" height="148.3" fill="#2ea597"/>
<rect x="3631.9" y="1492.9" width="29" height="34.9" fill="#2ea597"/>
<rect x="3673.5" y="1335.2" width="4" height="157.7" fill="#2ea597"/>
<rect x="3661" y="1335.2" width="29" height="131.7" fill="#2ea597"/>
<rect x="3702.5" y="1199.6" width="4" height="126.2" fill="#2ea597"/>
<rect x="3690" y="1206.8" width="29" height="90.8" fill="#2ea597"/>
<rect x="3731.6" y="1168" width="4" height="197.6" fill="#ef5350"/>
<rect x="3719.1" y="1202.4" width="29" height="153.8" fill="#ef5350"/>
<rect x="3760.6" y="1279.9" width="4" height="211.9" fill="#ef5350"/>
<rect x="3748.1" y="1303.1" width="29" height="167.7" fill="#ef5350"/>
<rect x="3789.7" y="1403.3" width="4" height="302.7" fill="#ef5350"/>
<rect x="3777.2" y="1479" width="29" height="157.8" fill="#ef5350"/>
<rect x="3818.8" y="1551" width="4" height="200.9" fill="#2ea597"/>
<rect x="3806.3" y="1578.7" width="29" height="141.1" fill="#2ea597"/>
<rect x="3847.8" y="1415.4" width="4" height="232.5" fill="#2ea597"/>
<rect x="3835.3" y="1447.5" width="29" height="189.3" fill="#2ea597"/>
<rect x="3876.9" y="1396.1" width="4" height="95.7" fill="#2ea597"/>
<rect x="3864.4" y="1403.3" width="29" height="19.3" fill="#2ea597"/>
<rect x="3905.9" y="1464.1" width="4" height="71.4" fill="#ef5350"/>
<rect x="3893.4" y="1479" width="29" height="56.5" fill="#ef5350"/>
<rect x="438.6" y="2941.3" width="58.4" height="29" fill="#8fb1e0"/>
<rect x="496.7" y="2947.9" width="87.5" height="22.4" fill="#8fb1e0"/>
<rect x="583.9" y="2953.2" width="28.9" height="17.1" fill="#8fb1e0"/>
<rect x="612.5" y="2960.7" width="29.8" height="9.6" fill="#8fb1e0"/>
<rect x="642" y="2966.4" width="28.9" height="3.9" fill="#8fb1e0"/>
<rect x="670.7" y="2970.3" width="116.1" height="6.2" fill="#8fb1e0"/>
<rect x="786.5" y="2966.4" width="28.9" height="3.9" fill="#8fb1e0"/>
<rect x="815.1" y="2958.5" width="59.7" height="11.8" fill="#8fb1e0"/>
<rect x="874.5" y="2951.9" width="86.2" height="18.4" fill="#8fb1e0"/>
<rect x="960.4" y="2956.3" width="87.5" height="14" fill="#8fb1e0"/>
<rect x="1047.6" y="2966.4" width="58.4" height="3.9" fill="#8fb1e0"/>
<rect x="1105.7" y="2970.3" width="117" height="5.8" fill="#8fb1e0"/>
<rect x="1222.4" y="2970.3" width="57.5" height="9.3" fill="#8fb1e0"/>
<rect x="1279.6" y="2970.3" width="30.7" height="15.9" fill="#8fb1e0"/>
<rect x="1290" y="2970.3" width="20.1" height="11.8" fill="#8fb1e0"/>
<rect x="1309.8" y="2970.3" width="28" height="25" fill="#8fb1e0"/>
<rect x="1337.6" y="2970.3" width="145.2" height="18.4" fill="#8fb1e0"/>
<rect x="1482.4" y="2970.3" width="146.9" height="10.9" fill="#8fb1e0"/>
<rect x="1629" y="2970.3" width="57.5" height="16.2" fill="#8fb1e0"/>
<rect x="1686.3" y="2970.3" width="28.9" height="22.8" fill="#8fb1e0"/>
<rect x="1714.9" y="2970.3" width="28.9" height="29.4" fill="#8fb1e0"/>
<rect x="1743.5" y="2970.3" width="30.2" height="20.6" fill="#8fb1e0"/>
<rect x="1773.5" y="2970.3" width="29.8" height="30.7" fill="#8fb1e0"/>
<rect x="1803" y="2970.3" width="28.9" height="24.1" fill="#8fb1e0"/>
<rect x="1831.6" y="2970.3" width="28.9" height="16.2" fill="#8fb1e0"/>
<rect x="1860.2" y="2970.3" width="58.9" height="10.9" fill="#8fb1e0"/>
<rect x="1918.8" y="2970.3" width="29.8" height="5.2" fill="#8fb1e0"/>
<rect x="1948.3" y="2961" width="28.9" height="9.3" fill="#8fb1e0"/>
<rect x="1976.9" y="2955.7" width="28.9" height="14.6" fill="#8fb1e0"/>
<rect x="2005.5" y="2946" width="87" height="24.3" fill="#8fb1e0"/>
<rect x="2092.3" y="2951.3" width="29.4" height="19" fill="#8fb1e0"/>
<rect x="2121.3" y="2955.7" width="28.9" height="14.6" fill="#8fb1e0"/>
<rect x="2149.9" y="2965.8" width="29.8" height="4.5" fill="#8fb1e0"/>
<rect x="2179.4" y="2955.7" width="10.9" height="14.6" fill="#8fb1e0"/>
<rect x="2170" y="2965.8" width="9.1" height="4.5" fill="#8fb1e0"/>
<rect x="2178.8" y="2956.1" width="116.1" height="14.2" fill="#8fb1e0"/>
<rect x="2294.6" y="2965.8" width="29.8" height="4.5" fill="#8fb1e0"/>
<rect x="2324.1" y="2957.9" width="28.9" height="12.4" fill="#8fb1e0"/>
<rect x="2352.7" y="2951.7" width="28.9" height="18.6" fill="#8fb1e0"/>
<rect x="2381.4" y="2956.1" width="58.4" height="14.2" fill="#8fb1e0"/>
<rect x="2439.5" y="2965.8" width="58.9" height="4.5" fill="#8fb1e0"/>
<rect x="2498" y="2970.3" width="29.8" height="4.3" fill="#8fb1e0"/>
<rect x="2527.5" y="2970.3" width="58.9" height="9.6" fill="#8fb1e0"/>
<rect x="2586.1" y="2970.3" width="57.5" height="17.5" fill="#8fb1e0"/>
<rect x="2643.3" y="2970.3" width="28.9" height="9.6" fill="#8fb1e0"/>
<rect x="2672" y="2965.8" width="29.8" height="4.5" fill="#8fb1e0"/>
<rect x="2701.5" y="2954.8" width="29.4" height="15.5" fill="#8fb1e0"/>
<rect x="2730.5" y="2947.3" width="115.7" height="23" fill="#8fb1e0"/>
<rect x="2845.9" y="2935.9" width="28.9" height="34.4" fill="#8fb1e0"/>
<rect x="2874.5" y="2940.7" width="29.8" height="29.6" fill="#8fb1e0"/>
<rect x="2904" y="2935.9" width="30.2" height="34.4" fill="#8fb1e0"/>
<rect x="2933.9" y="2940.7" width="57.5" height="29.6" fill="#8fb1e0"/>
<rect x="2991.2" y="2935.9" width="79.1" height="34.4" fill="#8fb1e0"/>
<rect x="3050" y="2935.9" width="28.9" height="34.4" fill="#8fb1e0"/>
<rect x="3078.6" y="2940.3" width="28.9" height="30" fill="#8fb1e0"/>
<rect x="3107.2" y="2935.9" width="29.8" height="34.4" fill="#8fb1e0"/>
<rect x="3136.7" y="2945.1" width="29.4" height="25.2" fill="#8fb1e0"/>
<rect x="3165.8" y="2966.7" width="28.9" height="3.6" fill="#8fb1e0"/>
<rect x="3194.4" y="2970.3" width="29.8" height="16.7" fill="#8fb1e0"/>
<rect x="3223.9" y="2970.3" width="28.9" height="29.9" fill="#8fb1e0"/>
<rect x="3252.5" y="2970.3" width="29.8" height="63.8" fill="#8fb1e0"/>
<rect x="3282" y="2970.3" width="28.9" height="127.6" fill="#8fb1e0"/>
<rect x="3310.7" y="2970.3" width="29.4" height="144.4" fill="#8fb1e0"/>
<rect x="3339.7" y="2970.3" width="29.8" height="154" fill="#8fb1e0"/>
<rect x="3369.2" y="2970.3" width="57.5" height="190.2" fill="#8fb1e0"/>
<rect x="3426.5" y="2970.3" width="29.8" height="165.1" fill="#8fb1e0"/>
<rect x="3456" y="2970.3" width="29.4" height="144.4" fill="#8fb1e0"/>
<rect x="3485" y="2970.3" width="28.9" height="108.7" fill="#8fb1e0"/>
<rect x="3513.7" y="2970.3" width="28.9" height="66" fill="#8fb1e0"/>
<rect x="3542.3" y="2970.3" width="29.8" height="34.3" fill="#8fb1e0"/>
<rect x="3571.8" y="2970.3" width="58.4" height="16.7" fill="#8fb1e0"/>
<rect x="3629.9" y="2970.3" width="29.4" height="9.6" fill="#8fb1e0"/>
<rect x="3659" y="2950.4" width="29.8" height="19.9" fill="#8fb1e0"/>
<rect x="3688.5" y="2931.5" width="57.5" height="38.8" fill="#8fb1e0"/>
<rect x="3745.7" y="2941.6" width="28.9" height="28.7" fill="#8fb1e0"/>
<rect x="3774.3" y="2965.8" width="29.8" height="4.5" fill="#8fb1e0"/>
<rect x="3803.8" y="2970.3" width="58.9" height="12.3" fill="#8fb1e0"/>
<rect x="3862.4" y="2964.5" width="65.5" height="5.8" fill="#8fb1e0"/>
<polyline points="425.4,2944.4 520.1,2918 586.1,2904.7 683,2898.1 779.9,2900.3 850.3,2884.9 938.4,2868.6 1039.7,2854.1 1248.8,2851.9 1290,2855 1408.9,2866 1624.6,2867.3 1796.4,2892.9 1875.6,2898.1 1932.9,2899 1972.5,2898.1 2038.5,2882.7 2126.6,2863.8 2170,2864.6 2205.2,2864.6 2288.9,2843.4 2346.1,2843.4 2434.2,2827.1 2570.7,2827.1 2619.1,2838.1 2711.6,2830.2 2830.5,2798.5 3050,2740.4 3151.3,2706 3223.9,2706 3256.9,2725.9 3290,2747.9 3331.8,2802.9 3380.2,2869 3419.9,2935 3450.7,2979 3481.5,3009.9 3547.6,3041.6 3587.2,3042.9 3613.6,3048.6 3666.4,3048.6 3758.9,3007.7 3904.2,3004.6" fill="none" stroke="#f58867" stroke-width="8" stroke-linejoin="round"/>
<polyline points="425.4,2915.8 520.1,2887.1 628,2887.1 683,2898.1 746.8,2898.1 815.1,2874.8 912,2851.9 986.8,2851.9 1026.4,2841.8 1070.5,2854.1 1248.8,2854.1 1290,2862 1329.6,2869.5 1422.1,2871.7 1615.8,2871.7 1695.1,2888.5 1730.3,2900.3 1800.8,2914.4 1831.6,2912.7 1875.6,2898.1 1932.9,2898.1 1994.5,2873.9 2038.5,2854.1 2073.8,2845.3 2113.4,2851.9 2170.6,2851.9 2170,2851.4 2258.1,2833.7 2341.7,2833.7 2390.2,2817.4 2429.8,2824.1 2495.8,2824.1 2535.5,2834.6 2575.1,2834.6 2599.3,2846.9 2636.7,2835.9 2685.2,2820.5 2742.4,2796.3 2786.4,2781.8 2821.7,2780 2834.9,2776.5 2861.3,2761.1 2918.5,2741.3 2962.6,2725 3041.8,2697.2 3050,2695.9 3091.8,2695.9 3127.1,2677.4 3153.5,2677.4 3182.1,2697.2 3226.1,2732.5 3261.4,2772.1 3279,2807.3 3296.6,2869 3327.4,2921.8 3353.8,2970.2 3375.8,3023.1 3402.3,3075.9 3433.1,3111.1 3468.3,3129.6 3494.7,3119.9 3534.3,3089.1 3578.4,3056.1 3613.6,3053 3640,3053.9 3679.7,3014.3 3728.1,2972.4 3750.1,2974.6 3816.1,3017.8 3873.4,2997.5 3904.2,2997.5" fill="none" stroke="#7ab7bb" stroke-width="8" stroke-linejoin="round"/>
<rect x="3943.5" y="182.5" width="10.0" height="2353.2" fill="#454545"/>
<rect x="421.0" y="2526" width="3532.5" height="9.7" fill="#454545"/>
<rect x="3943.5" y="2632.5" width="10.0" height="572.8" fill="#454545"/>
<rect x="421.0" y="3195.3" width="3532.5" height="10" fill="#454545"/>
<rect x="3953.5" y="288.5" width="44.5" height="11" fill="#454545"/>
<rect x="3953.5" y="392.9" width="44.5" height="11" fill="#454545"/>
<rect x="3953.5" y="602" width="44.5" height="11" fill="#454545"/>
<rect x="3953.5" y="705.9" width="44.5" height="11" fill="#454545"/>
<rect x="3953.5" y="920.7" width="44.5" height="11" fill="#454545"/>
<rect x="3953.5" y="1023.1" width="44.5" height="11" fill="#454545"/>
<rect x="3953.5" y="1125.6" width="44.5" height="11" fill="#454545"/>
<rect x="3953.5" y="1228" width="44.5" height="11" fill="#454545"/>
<rect x="3953.5" y="1330.5" width="44.5" height="11" fill="#454545"/>
<rect x="3953.5" y="1432.9" width="44.5" height="11" fill="#454545"/>
<rect x="3953.5" y="1535.4" width="44.5" height="11" fill="#454545"/>
<rect x="3953.5" y="1637.8" width="44.5" height="11" fill="#454545"/>
<rect x="3953.5" y="1740.2" width="44.5" height="11" fill="#454545"/>
<rect x="3953.5" y="1842.7" width="44.5" height="11" fill="#454545"/>
<rect x="3953.5" y="1945.1" width="44.5" height="11" fill="#454545"/>
<rect x="3953.5" y="2047.6" width="44.5" height="11" fill="#454545"/>
<rect x="3953.5" y="2150" width="44.5" height="11" fill="#454545"/>
<rect x="3953.5" y="2252.5" width="44.5" height="11" fill="#454545"/>
<rect x="3953.5" y="2716.1" width="44.5" height="11" fill="#454545"/>
<rect x="3953.5" y="2840.5" width="44.5" height="11" fill="#454545"/>
<rect x="3953.5" y="3089.1" width="44.5" height="11" fill="#454545"/>
<rect x="501.3" y="3205.3" width="12" height="44.9" fill="#454545"/>
<rect x="651.7" y="3205.3" width="12" height="44.9" fill="#454545"/>
<rect x="944.7" y="3205.3" width="12" height="44.9" fill="#454545"/>
<rect x="1091.5" y="3205.3" width="12" height="44.9" fill="#454545"/>
<rect x="1227.3" y="3205.3" width="12" height="44.9" fill="#454545"/>
<rect x="1531.3" y="3205.3" width="12" height="44.9" fill="#454545"/>
<rect x="1663.3" y="3205.3" width="12" height="44.9" fill="#454545"/>
<rect x="1796.5" y="3205.3" width="12" height="44.9" fill="#454545"/>
<rect x="1930.7" y="3205.3" width="12" height="44.9" fill="#454545"/>
<rect x="2077.3" y="3205.3" width="12" height="44.9" fill="#454545"/>
<rect x="2224.1" y="3205.3" width="12" height="44.9" fill="#454545"/>
<rect x="2368.1" y="3205.3" width="12" height="44.9" fill="#454545"/>
<rect x="2511.9" y="3205.3" width="12" height="44.9" fill="#454545"/>
<rect x="2741.4" y="3205.3" width="12" height="44.9" fill="#454545"/>
<rect x="2883.9" y="3205.3" width="12" height="44.9" fill="#454545"/>
<rect x="3005" y="3205.3" width="12" height="44.9" fill="#454545"/>
<rect x="3148.6" y="3205.3" width="12" height="44.9" fill="#454545"/>
<rect x="3452.5" y="3205.3" width="12" height="44.9" fill="#454545"/>
<rect x="3577.3" y="3205.3" width="12" height="44.9" fill="#454545"/>
<rect x="3701.9" y="3205.3" width="12" height="44.9" fill="#454545"/>
<text x="4055.3" y="314.0" textLength="89.2" lengthAdjust="spacingAndGlyphs" font-family="Liberation Sans" font-size="75.58" fill="#424242" stroke="#424242" stroke-width="3.0">90</text>
<text x="4063.2" y="418.4" textLength="81.1" lengthAdjust="spacingAndGlyphs" font-family="Liberation Sans" font-size="75.58" fill="#424242" stroke="#424242" stroke-width="3.0">70</text>
<text x="4056.1" y="627.5" textLength="88.4" lengthAdjust="spacingAndGlyphs" font-family="Liberation Sans" font-size="75.58" fill="#424242" stroke="#424242" stroke-width="3.0">30</text>
<text x="4055.0" y="731.4" textLength="89.6" lengthAdjust="spacingAndGlyphs" font-family="Liberation Sans" font-size="75.58" fill="#424242" stroke="#424242" stroke-width="3.0">10</text>
<text x="4054.3" y="946.2" textLength="208.2" lengthAdjust="spacingAndGlyphs" font-family="Liberation Sans" font-size="75.58" fill="#424242" stroke="#424242" stroke-width="3.0">285.0</text>
<text x="4054.3" y="1048.6" textLength="208.5" lengthAdjust="spacingAndGlyphs" font-family="Liberation Sans" font-size="75.58" fill="#424242" stroke="#424242" stroke-width="3.0">282.5</text>
<text x="4054.3" y="1151.1" textLength="208.2" lengthAdjust="spacingAndGlyphs" font-family="Liberation Sans" font-size="75.58" fill="#424242" stroke="#424242" stroke-width="3.0">280.0</text>
<text x="4054.3" y="1253.5" textLength="208.5" lengthAdjust="spacingAndGlyphs" font-family="Liberation Sans" font-size="75.58" fill="#424242" stroke="#424242" stroke-width="3.0">277.5</text>
<text x="4054.3" y="1356.0" textLength="208.2" lengthAdjust="spacingAndGlyphs" font-family="Liberation Sans" font-size="75.58" fill="#424242" stroke="#424242" stroke-width="3.0">275.0</text>
<text x="4054.3" y="1560.9" textLength="208.2" lengthAdjust="spacingAndGlyphs" font-family="Liberation Sans" font-size="75.58" fill="#424242" stroke="#424242" stroke-width="3.0">270.0</text>
<text x="4054.3" y="1663.3" textLength="208.5" lengthAdjust="spacingAndGlyphs" font-family="Liberation Sans" font-size="75.58" fill="#424242" stroke="#424242" stroke-width="3.0">267.5</text>
<text x="4054.3" y="1765.7" textLength="208.2" lengthAdjust="spacingAndGlyphs" font-family="Liberation Sans" font-size="75.58" fill="#424242" stroke="#424242" stroke-width="3.0">265.0</text>
<text x="4054.3" y="1868.2" textLength="208.5" lengthAdjust="spacingAndGlyphs" font-family="Liberation Sans" font-size="75.58" fill="#424242" stroke="#424242" stroke-width="3.0">262.5</text>
<text x="4054.3" y="1970.6" textLength="208.2" lengthAdjust="spacingAndGlyphs" font-family="Liberation Sans" font-size="75.58" fill="#424242" stroke="#424242" stroke-width="3.0">260.0</text>
<text x="4054.3" y="2073.1" textLength="208.5" lengthAdjust="spacingAndGlyphs" font-family="Liberation Sans" font-size="75.58" fill="#424242" stroke="#424242" stroke-width="3.0">257.5</text>
<text x="4054.3" y="2278.0" textLength="208.5" lengthAdjust="spacingAndGlyphs" font-family="Liberation Sans" font-size="75.58" fill="#424242" stroke="#424242" stroke-width="3.0">252.5</text>
<text x="4054.3" y="2380.4" textLength="208.2" lengthAdjust="spacingAndGlyphs" font-family="Liberation Sans" font-size="75.58" fill="#424242" stroke="#424242" stroke-width="3.0">250.0</text>
<text x="4055.8" y="2741.6" textLength="41.9" lengthAdjust="spacingAndGlyphs" font-family="Liberation Sans" font-size="75.58" fill="#424242" stroke="#424242" stroke-width="3.0">4</text>
<text x="4053.4" y="2866.0" textLength="45.4" lengthAdjust="spacingAndGlyphs" font-family="Liberation Sans" font-size="75.58" fill="#424242" stroke="#424242" stroke-width="3.0">2</text>
<text x="4055.8" y="3114.6" textLength="72.3" lengthAdjust="spacingAndGlyphs" font-family="Liberation Sans" font-size="75.58" fill="#424242" stroke="#424242" stroke-width="3.0">-2</text>
<text x="199.8" y="2036.5" textLength="202.5" lengthAdjust="spacingAndGlyphs" font-family="Liberation Sans" font-size="77.04" fill="#424242" stroke="#424242" stroke-width="3.0">400M</text>
<text x="199.9" y="2164.5" textLength="202.4" lengthAdjust="spacingAndGlyphs" font-family="Liberation Sans" font-size="77.04" fill="#424242" stroke="#424242" stroke-width="3.0">300M</text>
<text x="198.9" y="2290.7" textLength="203.5" lengthAdjust="spacingAndGlyphs" font-family="Liberation Sans" font-size="77.04" fill="#424242" stroke="#424242" stroke-width="3.0">200M</text>
<text x="200.2" y="2417.7" textLength="202.1" lengthAdjust="spacingAndGlyphs" font-family="Liberation Sans" font-size="77.04" fill="#424242" stroke="#424242" stroke-width="3.0">100M</text>
<text x="456.5" y="3363.1" textLength="101.4" lengthAdjust="spacingAndGlyphs" font-family="Liberation Sans" font-size="83.58" fill="#424242" stroke="#424242" stroke-width="3.0">18</text>
<text x="606.6" y="3363.1" textLength="100.7" lengthAdjust="spacingAndGlyphs" font-family="Liberation Sans" font-size="83.58" fill="#424242" stroke="#424242" stroke-width="3.0">25</text>
<text x="926.7" y="3363.1" textLength="50.0" lengthAdjust="spacingAndGlyphs" font-family="Liberation Sans" font-size="83.58" fill="#424242" stroke="#424242" stroke-width="3.0">9</text>
<text x="1046.8" y="3363.1" textLength="101.5" lengthAdjust="spacingAndGlyphs" font-family="Liberation Sans" font-size="83.58" fill="#424242" stroke="#424242" stroke-width="3.0">16</text>
<text x="1182.7" y="3363.1" textLength="100.7" lengthAdjust="spacingAndGlyphs" font-family="Liberation Sans" font-size="83.58" fill="#424242" stroke="#424242" stroke-width="3.0">23</text>
<text x="1512.1" y="3363.1" textLength="50.1" lengthAdjust="spacingAndGlyphs" font-family="Liberation Sans" font-size="83.58" fill="#424242" stroke="#424242" stroke-width="3.0">6</text>
<text x="1616.5" y="3363.1" textLength="101.6" lengthAdjust="spacingAndGlyphs" font-family="Liberation Sans" font-size="83.58" fill="#424242" stroke="#424242" stroke-width="3.0">13</text>
<text x="1752.7" y="3363.1" textLength="100.3" lengthAdjust="spacingAndGlyphs" font-family="Liberation Sans" font-size="83.58" fill="#424242" stroke="#424242" stroke-width="3.0">20</text>
<text x="1883.3" y="3363.1" textLength="104.4" lengthAdjust="spacingAndGlyphs" font-family="Liberation Sans" font-size="83.58" fill="#424242" stroke="#424242" stroke-width="3.0">27</text>
<text x="2003.6" y="3363.1" textLength="158.0" lengthAdjust="spacingAndGlyphs" font-family="Liberation Sans" font-size="85.03" fill="#424242" stroke="#424242" stroke-width="3.0">Dec</text>
<text x="2178.3" y="3363.1" textLength="101.3" lengthAdjust="spacingAndGlyphs" font-family="Liberation Sans" font-size="83.58" fill="#424242" stroke="#424242" stroke-width="3.0">11</text>
<text x="2320.4" y="3363.1" textLength="102.9" lengthAdjust="spacingAndGlyphs" font-family="Liberation Sans" font-size="83.58" fill="#424242" stroke="#424242" stroke-width="3.0">18</text>
<text x="2465.9" y="3363.1" textLength="101.4" lengthAdjust="spacingAndGlyphs" font-family="Liberation Sans" font-size="83.58" fill="#424242" stroke="#424242" stroke-width="3.0">26</text>
<text x="2722.5" y="3363.1" textLength="47.1" lengthAdjust="spacingAndGlyphs" font-family="Liberation Sans" font-size="83.58" fill="#424242" stroke="#424242" stroke-width="3.0">8</text>
<text x="2838.2" y="3363.1" textLength="100.9" lengthAdjust="spacingAndGlyphs" font-family="Liberation Sans" font-size="83.58" fill="#424242" stroke="#424242" stroke-width="3.0">16</text>
<text x="2959.5" y="3363.1" textLength="100.9" lengthAdjust="spacingAndGlyphs" font-family="Liberation Sans" font-size="83.58" fill="#424242" stroke="#424242" stroke-width="3.0">22</text>
<text x="3103.4" y="3363.1" textLength="100.5" lengthAdjust="spacingAndGlyphs" font-family="Liberation Sans" font-size="83.58" fill="#424242" stroke="#424242" stroke-width="3.0">29</text>
<text x="3410.0" y="3363.1" textLength="98.6" lengthAdjust="spacingAndGlyphs" font-family="Liberation Sans" font-size="83.58" fill="#424242" stroke="#424242" stroke-width="3.0">12</text>
<text x="3533.1" y="3363.1" textLength="100.8" lengthAdjust="spacingAndGlyphs" font-family="Liberation Sans" font-size="83.58" fill="#424242" stroke="#424242" stroke-width="3.0">20</text>
<text x="3655.8" y="3363.1" textLength="101.3" lengthAdjust="spacingAndGlyphs" font-family="Liberation Sans" font-size="83.58" fill="#424242" stroke="#424242" stroke-width="3.0">26</text>
<text x="728.9" y="3462.0" textLength="142.7" lengthAdjust="spacingAndGlyphs" font-family="Liberation Sans" font-size="85.03" fill="#424242" stroke="#424242" stroke-width="3.0">Oct</text>
<text x="1317.6" y="3462.0" textLength="167.1" lengthAdjust="spacingAndGlyphs" font-family="Liberation Sans" font-size="85.03" fill="#424242" stroke="#424242" stroke-width="3.0">Nov</text>
<text x="2543.1" y="3462.0" textLength="202.5" lengthAdjust="spacingAndGlyphs" font-family="Liberation Sans" font-size="83.58" fill="#424242" stroke="#424242" stroke-width="3.0">2018</text>
<text x="3188.8" y="3462.0" textLength="151.7" lengthAdjust="spacingAndGlyphs" font-family="Liberation Sans" font-size="85.03" fill="#424242" stroke="#424242" stroke-width="3.0">Feb</text>
<text x="3751.2" y="3462.0" textLength="161.4" lengthAdjust="spacingAndGlyphs" font-family="Liberation Sans" font-size="85.03" fill="#424242" stroke="#424242" stroke-width="3.0">Mar</text>
<rect x="3953.5" y="454.5" width="259.1" height="91.8" fill="#fdae6b"/>
<text x="3978.6" y="528.6" textLength="209.6" lengthAdjust="spacingAndGlyphs" font-family="Liberation Sans" font-size="76.31" fill="#ffffff" stroke="#ffffff" stroke-width="3.0">49.07</text>
<rect x="3953.5" y="1347.8" width="286.3" height="88.6" fill="#3e4fa2"/>
<text x="3968.3" y="1420.5" textLength="254.7" lengthAdjust="spacingAndGlyphs" font-family="Liberation Sans" font-size="76.31" fill="#ffffff" stroke="#ffffff" stroke-width="3.0">273.38</text>
<rect x="3953.5" y="1436.4" width="286.3" height="92.1" fill="#8fb3e2"/>
<text x="3968.3" y="1510.4" textLength="255.2" lengthAdjust="spacingAndGlyphs" font-family="Liberation Sans" font-size="76.31" fill="#ffffff" stroke="#ffffff" stroke-width="3.0">271.31</text>
<rect x="3953.5" y="2106.2" width="286.2" height="91.3" fill="#7b8bd6"/>
<text x="3968.7" y="2179.4" textLength="254.8" lengthAdjust="spacingAndGlyphs" font-family="Liberation Sans" font-size="76.31" fill="#ffffff" stroke="#ffffff" stroke-width="3.0">254.91</text>
<rect x="3953.5" y="2441.2" width="308" height="91.8" fill="#333b60"/>
<text x="3968.7" y="2514.9" textLength="277.0" lengthAdjust="spacingAndGlyphs" font-family="Liberation Sans" font-size="76.31" fill="#ffffff" stroke="#ffffff" stroke-width="3.0">689992</text>
<rect x="3953.5" y="2932.5" width="286.3" height="92" fill="#7bb6be"/>
<text x="3977.1" y="3005.9" textLength="240.3" lengthAdjust="spacingAndGlyphs" font-family="Liberation Sans" font-size="76.31" fill="#ffffff" stroke="#ffffff" stroke-width="3.0">-0.319</text>
<circle cx="184" cy="3767.2" r="86" fill="#33406a"/>
<g clip-path="url(#logoc)"><polygon points="80,3796.6 178.8,3740.2 193.3,3749.5 188.1,3804.7 290,3741.4 290,3766.9 181.1,3832 166.6,3821.5 171.8,3768.7 80,3824" fill="#efeff0"/></g>
<circle cx="188.7" cy="3719.8" r="12.8" fill="#f15a29"/>
<g fill="#1d1d1f"><rect x="311" y="3708.3" width="18.4" height="124.3"/><rect x="351.9" y="3747.5" width="16.6" height="85.1"/><path d="M360.2,3832.6 V3786 A30.9,30.9 0 0 1 422,3786 V3832.6" fill="none" stroke="#1d1d1f" stroke-width="17"/><polygon points="437.5,3747.5 457.8,3747.5 481.5,3807.4 505.5,3747.5 523.8,3747.5 492,3832.6 471.2,3832.6"/><path d="M602.5,3786.6 A34.0,34.0 0 1 0 595.3,3810.5" fill="none" stroke="#1d1d1f" stroke-width="17"/><rect x="543.4" y="3779.3" width="66" height="14.7"/><path d="M675.5,3763 C668,3755 660,3754.5 651,3754.5 C636,3754.5 627.5,3762 627.5,3771.5 C627.5,3782 640,3786 651,3789 C665,3792.5 676.5,3797 676.5,3809 C676.5,3820 665,3825.8 651,3825.8 C639,3825.8 629,3820 623.5,3812" fill="none" stroke="#1d1d1f" stroke-width="16.5"/><path d="M710,3719.8 V3802 Q710,3824.5 733,3824.5 H743" fill="none" stroke="#1d1d1f" stroke-width="17.6"/><rect x="692.6" y="3747.5" width="50.2" height="14.7"/><circle cx="792.2" cy="3790" r="35.8" fill="none" stroke="#1d1d1f" stroke-width="17.2"/><rect x="849" y="3747.5" width="16.8" height="126"/><circle cx="893.4" cy="3790" r="36" fill="none" stroke="#1d1d1f" stroke-width="16.8"/><path d="M1022.5,3786.6 A34.0,34.0 0 1 0 1015.3,3810.5" fill="none" stroke="#1d1d1f" stroke-width="17"/><rect x="963.5" y="3779.3" width="66" height="14.7"/><rect x="1112" y="3701" width="16.8" height="131.6"/><circle cx="1084.2" cy="3790" r="36" fill="none" stroke="#1d1d1f" stroke-width="16.8"/><rect x="1149.4" y="3747.5" width="17.1" height="85.1"/><circle cx="1157.9" cy="3717.4" r="11"/><rect x="1252.1" y="3747.5" width="18.4" height="85.1"/><circle cx="1225.2" cy="3790" r="36" fill="none" stroke="#1d1d1f" stroke-width="17"/></g>
</svg></body></html>
